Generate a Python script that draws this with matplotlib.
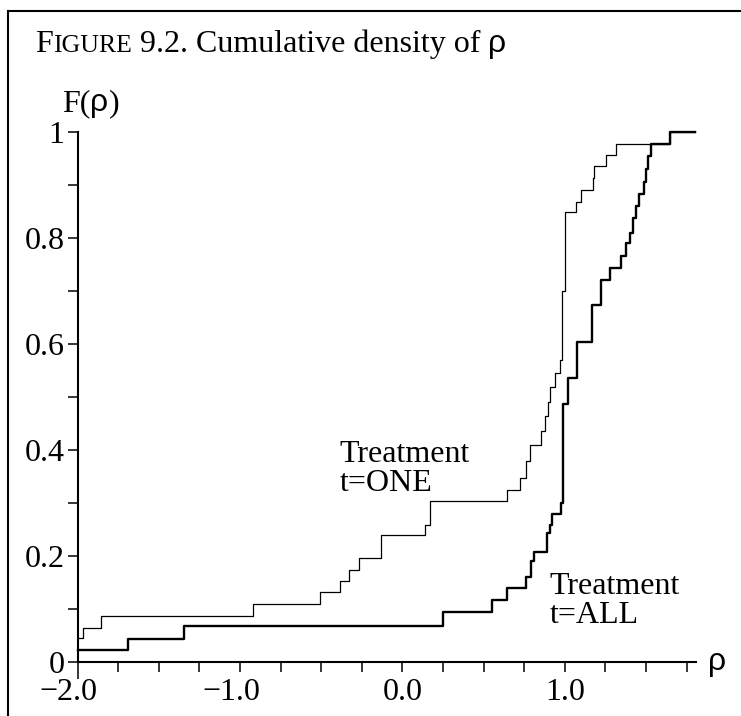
import matplotlib
matplotlib.use("Agg")
import matplotlib.pyplot as plt
from matplotlib.patches import Rectangle
from matplotlib.transforms import ScaledTranslation

plt.rcParams['font.family'] = ['Liberation Serif', 'DejaVu Serif']
SANS = ['Liberation Sans', 'DejaVu Sans']

# ---- data ----
one_start = 0.045
one_x = [-1.97, -1.856, -0.923, -0.509, -0.386, -0.328, -0.267, -0.129, 0.137, 0.168,
         0.644, 0.726, 0.76, 0.783, 0.851, 0.876, 0.895, 0.911, 0.94,
         0.97, 0.985, 1.003, 1.071, 1.101, 1.173, 1.183, 1.251, 1.317, 1.645]
one_y = [0.064, 0.087, 0.109, 0.132, 0.152, 0.174, 0.197, 0.239, 0.258, 0.304,
         0.3245, 0.347, 0.38, 0.409, 0.435, 0.465, 0.49, 0.519, 0.545,
         0.57, 0.70, 0.85, 0.8685, 0.8906, 0.9126, 0.9358, 0.956, 0.977, 1.0]

all_start = 0.0226
all_x = [-1.689, -1.344, 0.250, 0.551, 0.645, 0.759, 0.79, 0.808, 0.89, 0.91, 0.923,
         0.975, 0.988, 1.019, 1.075, 1.169, 1.224, 1.276, 1.348, 1.375,
         1.40, 1.42, 1.44, 1.46, 1.485, 1.50, 1.515, 1.532, 1.645]
all_y = [0.0434, 0.068, 0.0937, 0.117, 0.139, 0.161, 0.19, 0.208, 0.243, 0.258, 0.28,
         0.30, 0.487, 0.535, 0.603, 0.6736, 0.7208, 0.7428, 0.766, 0.791,
         0.81, 0.837, 0.86, 0.883, 0.906, 0.93, 0.955, 0.977, 1.0]

x_end = 1.80
x_min, x_max = -2.0, 1.81

x_tick_major = [-2.0, -1.0, 0.0, 1.0]
x_tick_labels = ["\u22122.0", "\u22121.0", "0.0", "1.0"]
x_tick_minor = [-1.75, -1.5, -1.25, -0.75, -0.5, -0.25, 0.25, 0.5, 0.75, 1.25, 1.5, 1.75]
y_tick_major = [0.0, 0.2, 0.4, 0.6, 0.8, 1.0]
y_tick_labels = ["0", "0.2", "0.4", "0.6", "0.8", "1"]
y_tick_minor = [0.1, 0.3, 0.5, 0.7, 0.9]

label_one = "Treatment\nt=ONE"
label_all = "Treatment\nt=ALL"

FS = 23

# ---- figure ----
W, H = 741, 716
fig = plt.figure(figsize=(W / 100, H / 100), dpi=100)
ax = fig.add_axes([77.7 / W, 54 / H, (696.3 - 77.7) / W, 530 / H])

xs1 = [x_min] + one_x + [x_end]
ys1 = [one_start] + one_y + [one_y[-1]]
xs2 = [x_min] + all_x + [x_end]
ys2 = [all_start] + all_y + [all_y[-1]]
ax.step(xs1, ys1, where='post', color='black', lw=0.9, clip_on=False)
ax.step(xs2, ys2, where='post', color='black', lw=1.7, clip_on=False)

ax.set_xlim(x_min, x_max)
ax.set_ylim(0, 1)
for s in ['top', 'right']:
    ax.spines[s].set_visible(False)
for s in ['left', 'bottom']:
    ax.spines[s].set_linewidth(1.5)

ax.set_xticks(x_tick_major)
ax.set_xticklabels(x_tick_labels)
ax.set_xticks(x_tick_minor, minor=True)
ax.set_yticks(y_tick_major)
ax.set_yticklabels(y_tick_labels)
ax.set_yticks(y_tick_minor, minor=True)
ax.tick_params(axis='both', which='both', direction='out', length=7.5, width=1.1,
               labelsize=FS, colors='black')
ax.tick_params(axis='x', which='major', pad=4)
ax.tick_params(axis='y', which='major', pad=2)
ax.xaxis.get_major_ticks()[0].tick1line.set_markersize(12)

for lab in ax.get_xticklabels():
    if lab.get_text().startswith("\u2212"):
        lab.set_transform(lab.get_transform() + ScaledTranslation(-9 / 100, 0, fig.dpi_scale_trans))

ax.text(1.936, 0.0, "\u03c1", fontsize=FS, family=SANS, ha='center', va='center', clip_on=False)

ax.text(-0.387, 0.323, label_one, fontsize=FS, ha='left', va='baseline', linespacing=1.0)
ax.text(0.908, 0.073, label_all, fontsize=FS, ha='left', va='baseline', linespacing=1.0)

fig.canvas.draw()
r = fig.canvas.get_renderer()


def chain(x0, ybase, parts):
    x = x0
    for txt, size, fam in parts:
        kw = {} if fam is None else {'family': fam}
        t = fig.text(x / W, 1 - ybase / H, txt, fontsize=size, ha='left', va='baseline', **kw)
        bb = t.get_window_extent(r)
        x = bb.x1


# title with small caps
chain(35, 51.7, [("F", FS, None), ("IGURE", 18.5, None),
                 (" 9.2. Cumulative density of ", FS, None), ("\u03c1", FS, SANS)])
# y-axis label F(rho)
chain(62, 111, [("F(", FS, None), ("\u03c1", FS, SANS), (")", FS, None)])

fig.patches.append(Rectangle((8.3 / W, -0.2), 1.5, 1.2 - 10.7 / H, transform=fig.transFigure,
                             fill=False, edgecolor='black', lw=1.5, figure=fig))

fig.savefig("out.png", dpi=100)
